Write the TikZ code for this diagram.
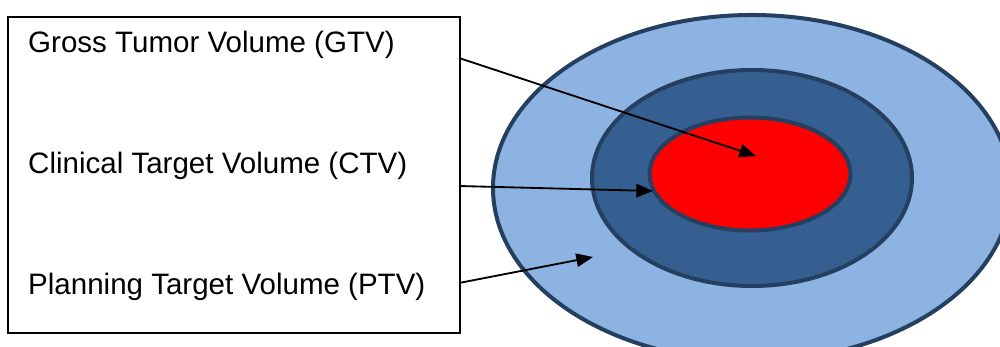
\documentclass[tikz,border=0pt]{standalone}
\usepackage{fontspec}
\setmainfont{Liberation Sans}
\usetikzlibrary{shapes.geometric,arrows.meta}
\definecolor{rimblue}{HTML}{243F60}
\definecolor{ptvblue}{HTML}{8DB3E2}
\definecolor{ctvblue}{HTML}{355F91}

\begin{document}
\begin{tikzpicture}[x=0.03cm, y=-0.03cm,
  volume/.style={ellipse, draw=rimblue, line width=0.12cm, inner sep=0pt},
  label/.style={anchor=base west, inner sep=0pt, font=\fontsize{25.2}{30}\selectfont},
  pointer/.style={line width=0.055cm, -{Triangle[length=0.5cm, width=0.4cm]}}]
\useasboundingbox (0,0) rectangle (1000,347);
\clip (0,0) rectangle (1000,347);
% target volumes
\node[volume, fill=ptvblue, minimum width=15.54cm, minimum height=10.38cm] (ptv) at (752,188) {};
\node[volume, fill=ctvblue, minimum width=9.6cm, minimum height=6.48cm] (ctv) at (752,178) {};
\node[volume, fill=red, minimum width=6.03cm, minimum height=3.39cm] (gtv) at (750,174) {};
% legend box
\node[draw, line width=0.055cm, anchor=north west, minimum width=13.56cm, minimum height=9.48cm, inner sep=0pt] (box) at (7,16) {};
\node[label] (gtvtext) at (28,53) {Gross Tumor Volume (GTV)};
\node[label] (ctvtext) at (28,174) {Clinical Target Volume (CTV)};
\node[label] (ptvtext) at (28,295) {Planning Target Volume (PTV)};
% arrows
\coordinate (gtvfrom) at (459,58);
\coordinate (ctvfrom) at (459,186);
\coordinate (ptvfrom) at (459,283);
\coordinate (gtvto) at (756,156);
\coordinate (ctvto) at (653,191);
\coordinate (ptvto) at (593,257);
\draw[pointer] (gtvfrom) -- (gtvto);
\draw[pointer] (ctvfrom) -- (ctvto);
\draw[pointer] (ptvfrom) -- (ptvto);
\end{tikzpicture}
\end{document}
